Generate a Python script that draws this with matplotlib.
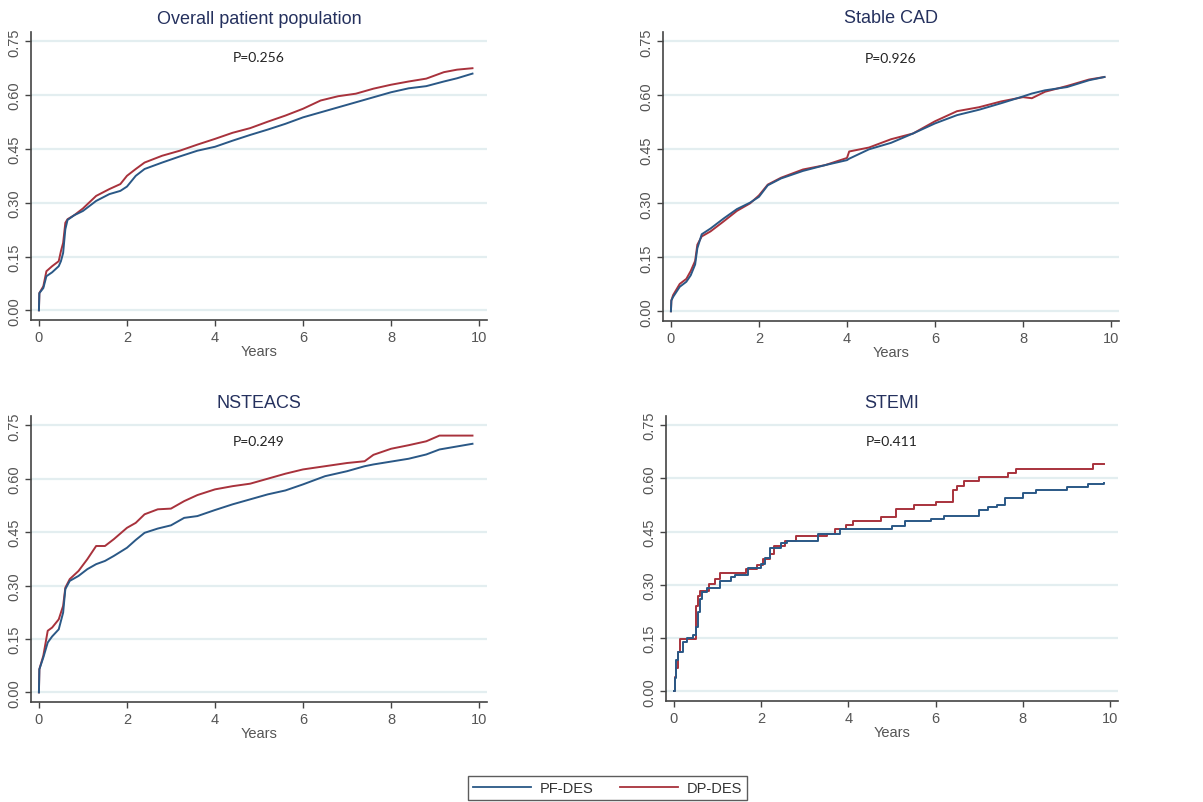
import matplotlib
matplotlib.use("Agg")
import matplotlib.pyplot as plt
from matplotlib.lines import Line2D

plt.rcParams['font.family'] = ['Liberation Sans', 'DejaVu Sans']

# ---------------- data ----------------
titles = ["Overall patient population", "Stable CAD", "NSTEACS", "STEMI"]
p_values = ["P=0.256", "P=0.926", "P=0.249", "P=0.411"]
series_names = ["PF-DES", "DP-DES"]
x_ticks = [0, 2, 4, 6, 8, 10]
y_ticks = [0.00, 0.15, 0.30, 0.45, 0.60, 0.75]

# Overall patient population
overall_t = [0, 0.01, 0.1, 0.17, 0.3, 0.45, 0.5, 0.55, 0.6, 0.65, 0.8, 1.0, 1.3, 1.6,
             1.85, 2.0, 2.2, 2.4, 2.8, 3.2, 3.6, 4.0, 4.4, 4.8, 5.2, 5.6, 6.0, 6.4,
             6.8, 7.2, 7.6, 8.0, 8.4, 8.8, 9.2, 9.5, 9.85]
overall_pf = [0, 0.048, 0.062, 0.095, 0.106, 0.123, 0.137, 0.160, 0.226, 0.252, 0.265,
              0.277, 0.305, 0.324, 0.333, 0.345, 0.375, 0.394, 0.412, 0.429, 0.445,
              0.456, 0.473, 0.489, 0.504, 0.520, 0.538, 0.552, 0.566, 0.580, 0.594,
              0.608, 0.619, 0.625, 0.638, 0.647, 0.660]
overall_dp = [0, 0.048, 0.067, 0.109, 0.123, 0.137, 0.165, 0.188, 0.244, 0.254, 0.265,
              0.284, 0.319, 0.338, 0.352, 0.375, 0.394, 0.412, 0.431, 0.445, 0.462,
              0.478, 0.495, 0.508, 0.526, 0.543, 0.562, 0.585, 0.597, 0.604, 0.618,
              0.629, 0.638, 0.646, 0.664, 0.671, 0.675]

# Stable CAD
stable_t = [0, 0.01, 0.05, 0.2, 0.35, 0.45, 0.55, 0.6, 0.7, 0.9, 1.2, 1.5, 1.8, 2.0,
            2.2, 2.5, 3.0, 3.5, 4.0, 4.05, 4.5, 5.0, 5.5, 6.0, 6.5, 7.0, 7.5, 8.0,
            8.2, 8.5, 9.0, 9.5, 9.85]
stable_pf = [0, 0.030, 0.040, 0.068, 0.082, 0.100, 0.130, 0.175, 0.214, 0.230, 0.258,
             0.284, 0.302, 0.318, 0.350, 0.369, 0.390, 0.406, 0.420, 0.424, 0.450,
             0.468, 0.494, 0.522, 0.545, 0.560, 0.578, 0.597, 0.605, 0.614, 0.623,
             0.642, 0.651]
stable_dp = [0, 0.030, 0.045, 0.076, 0.090, 0.112, 0.140, 0.185, 0.208, 0.222, 0.250,
             0.279, 0.300, 0.322, 0.352, 0.371, 0.394, 0.406, 0.426, 0.444, 0.455,
             0.478, 0.494, 0.528, 0.556, 0.567, 0.583, 0.595, 0.592, 0.610, 0.626,
             0.644, 0.651]

# NSTEACS
nsteacs_t = [0, 0.01, 0.1, 0.2, 0.3, 0.45, 0.55, 0.6, 0.7, 0.9, 1.1, 1.3, 1.5, 1.7,
             2.0, 2.2, 2.4, 2.7, 3.0, 3.3, 3.6, 4.0, 4.4, 4.8, 5.2, 5.6, 6.0, 6.5,
             7.0, 7.4, 7.6, 8.0, 8.4, 8.8, 9.1, 9.85]
nsteacs_pf = [0, 0.065, 0.098, 0.140, 0.157, 0.177, 0.224, 0.290, 0.313, 0.327, 0.346,
              0.360, 0.369, 0.383, 0.406, 0.428, 0.448, 0.460, 0.469, 0.490, 0.495,
              0.512, 0.528, 0.542, 0.556, 0.567, 0.584, 0.607, 0.621, 0.635, 0.640,
              0.648, 0.656, 0.668, 0.682, 0.698]
nsteacs_dp = [0, 0.065, 0.103, 0.173, 0.182, 0.205, 0.243, 0.294, 0.318, 0.341, 0.374,
              0.411, 0.411, 0.430, 0.462, 0.476, 0.500, 0.514, 0.516, 0.537, 0.554,
              0.570, 0.579, 0.586, 0.600, 0.614, 0.626, 0.635, 0.644, 0.649, 0.667,
              0.684, 0.694, 0.705, 0.721, 0.721]

# STEMI
stemi_t_pf = [0, 0.02, 0.05, 0.1, 0.2, 0.3, 0.45, 0.5, 0.55, 0.6, 0.65, 0.75, 1.05,
              1.3, 1.4, 1.7, 2.0, 2.1, 2.2, 2.45, 2.6, 3.3, 3.8, 4.0, 5.0, 5.3, 5.9,
              6.2, 7.0, 7.2, 7.4, 7.6, 8.0, 8.3, 9.0, 9.5, 9.85]
stemi_pf = [0, 0.037, 0.089, 0.112, 0.140, 0.151, 0.158, 0.182, 0.224, 0.261, 0.280,
            0.291, 0.312, 0.321, 0.328, 0.349, 0.359, 0.377, 0.405, 0.419, 0.424,
            0.443, 0.457, 0.459, 0.466, 0.480, 0.486, 0.494, 0.512, 0.520, 0.526,
            0.545, 0.559, 0.568, 0.576, 0.585, 0.587]
stemi_t_dp = [0, 0.02, 0.05, 0.1, 0.15, 0.5, 0.55, 0.6, 0.8, 0.95, 1.05, 1.65, 1.9,
              2.05, 2.2, 2.3, 2.55, 2.8, 3.5, 3.7, 3.95, 4.1, 4.75, 5.1, 5.5, 6.0,
              6.4, 6.5, 6.65, 7.0, 7.65, 7.85, 9.6, 9.85]
stemi_dp = [0, 0.040, 0.065, 0.112, 0.149, 0.242, 0.270, 0.284, 0.303, 0.317, 0.333,
            0.345, 0.356, 0.373, 0.387, 0.410, 0.424, 0.438, 0.444, 0.457, 0.470,
            0.480, 0.492, 0.514, 0.524, 0.533, 0.568, 0.580, 0.594, 0.603, 0.615,
            0.627, 0.641, 0.641]

panels = [
    (overall_t, overall_pf, overall_t, overall_dp),
    (stable_t, stable_pf, stable_t, stable_dp),
    (nsteacs_t, nsteacs_pf, nsteacs_t, nsteacs_dp),
    (stemi_t_pf, stemi_pf, stemi_t_dp, stemi_dp),
]
# the first three curves have very fine steps (look continuous); STEMI shows clear steps
draw_styles = ["default", "default", "default", "steps-post"]

# ---------------- styling ----------------
W, H = 1203, 803
BLUE = "#2a5886"
RED = "#a8323c"
GRID = "#e3eef0"
TITLE_C = "#25315e"
TICK_C = "#555555"
AX_C = "#444444"

# axes boxes in pixels: left, top, right, bottom
boxes = [(31, 33, 487, 321), (663, 33, 1119, 322),
         (31, 417, 487, 703), (666, 417, 1118, 702)]

fig = plt.figure(figsize=(W / 100, H / 100), dpi=100)

for i, (box, (t1, v1, t2, v2)) in enumerate(zip(boxes, panels)):
    l, t, r, b = box
    ax = fig.add_axes([l / W, 1 - b / H, (r - l) / W, (b - t) / H])
    ax.set_xlim(-0.18, 10.18)
    ax.set_ylim(-0.027, 0.776)
    for yv in y_ticks:
        ax.axhline(yv, color=GRID, lw=1.6, zorder=0)
    ax.plot(t1, v1, drawstyle=draw_styles[i], color=BLUE, lw=1.4, zorder=3)
    ax.plot(t2, v2, drawstyle=draw_styles[i], color=RED, lw=1.4, zorder=2)
    ax.set_xticks(x_ticks)
    ax.set_yticks(y_ticks)
    ax.set_yticklabels([f"{v:.2f}" for v in y_ticks], rotation=90, va="center")
    ax.tick_params(axis="both", direction="out", length=4, width=1, color=AX_C,
                   labelcolor=TICK_C, labelsize=10.5)
    ax.tick_params(axis="y", pad=3)
    ax.tick_params(axis="x", pad=3)
    for s in ["top", "right"]:
        ax.spines[s].set_visible(False)
    for s in ["left", "bottom"]:
        ax.spines[s].set_color(AX_C)
        ax.spines[s].set_linewidth(1.2)
    ax.set_xlabel("Years", color=TICK_C, fontsize=10.5, labelpad=0)
    ax.text(5.0, 0.815, titles[i], ha="center", va="center", color=TITLE_C,
            fontsize=13, clip_on=False)
    ax.text(5.0, 0.705, p_values[i], ha="center", va="center", color="#222222",
            fontsize=10, family=["Lato", "DejaVu Sans"])

handles = [Line2D([], [], color=BLUE, lw=1.3), Line2D([], [], color=RED, lw=1.3)]
leg = fig.legend(handles, series_names, loc="center", ncol=2,
                 bbox_to_anchor=(607.5 / W, 1 - 789 / H), frameon=True,
                 fancybox=False, edgecolor="#333333", fontsize=10.5,
                 handlelength=4.0, handletextpad=0.6, columnspacing=1.8,
                 borderpad=0.35)
leg.get_frame().set_linewidth(1.0)
for txt in leg.get_texts():
    txt.set_color("#333333")

fig.savefig("out.png", dpi=100, facecolor="white")
